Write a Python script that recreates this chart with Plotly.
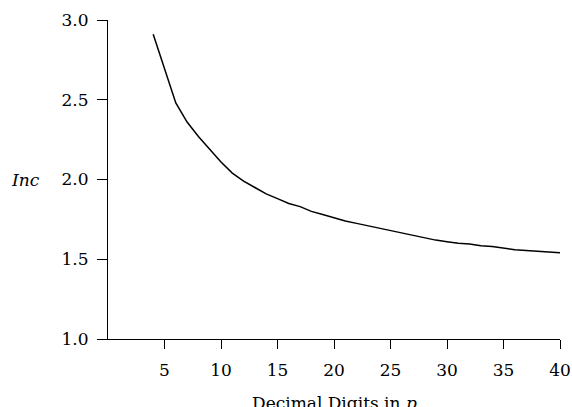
import plotly.graph_objects as go

digits = list(range(4, 41))
inc = [2.91, 2.69, 2.48, 2.36, 2.27, 2.19, 2.11, 2.04, 1.99, 1.95,
       1.91, 1.88, 1.85, 1.83, 1.80, 1.78, 1.76, 1.74, 1.725, 1.71,
       1.695, 1.68, 1.665, 1.65, 1.635, 1.62, 1.61, 1.60, 1.595, 1.585,
       1.58, 1.57, 1.56, 1.555, 1.55, 1.545, 1.54]
x_ticks = [5, 10, 15, 20, 25, 30, 35, 40]
y_ticks = [1.0, 1.5, 2.0, 2.5, 3.0]
y_ticklabels = ["1.0", "1.5", "2.0", "2.5", "3.0"]

FONT = "DejaVu Serif, Liberation Serif, serif"

fig = go.Figure()
fig.add_trace(go.Scatter(x=digits, y=inc, mode="lines",
                         line=dict(color="black", width=1.5),
                         showlegend=False, hoverinfo="skip"))

fig.update_layout(
    width=572, height=407,
    margin=dict(l=108, r=12, t=20, b=68),
    paper_bgcolor="white", plot_bgcolor="white",
    font=dict(family=FONT, size=17, color="black"),
    xaxis=dict(range=[0, 40], tickvals=x_ticks, ticks="outside", ticklen=9,
               tickwidth=1, tickcolor="black", showline=True, linecolor="black",
               linewidth=1, showgrid=False, zeroline=False, ticklabelstandoff=7,
               automargin=False),
    yaxis=dict(range=[1.0, 3.0], tickvals=y_ticks, ticktext=y_ticklabels,
               ticks="outside", ticklen=10, tickwidth=1, tickcolor="black",
               showline=True, linecolor="black", linewidth=1, showgrid=False,
               zeroline=False, ticklabelstandoff=5, automargin=False),
    annotations=[
        dict(text="<i>Inc</i>", xref="paper", yref="y", x=0, y=2.0,
             xanchor="right", yanchor="middle", xshift=-66, showarrow=False,
             font=dict(family=FONT, size=17)),
        dict(text="Decimal Digits in <i>p</i>", xref="x", yref="paper",
             x=20, y=0, xanchor="center", yanchor="middle", yshift=-64,
             showarrow=False, font=dict(family=FONT, size=17)),
    ],
)

fig.write_html("out.html", config={"displayModeBar": False},
               post_script="document.body.style.margin='0';document.body.style.overflow='hidden';")
